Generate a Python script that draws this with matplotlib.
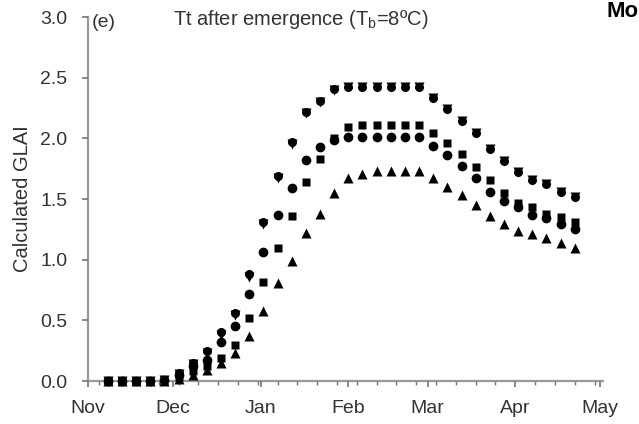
import matplotlib
matplotlib.use("Agg")
import matplotlib.pyplot as plt

plt.rcParams['font.family'] = ['Liberation Sans', 'DejaVu Sans']

# days after 1 November for each simulated point
days = [7, 12, 17, 22, 27, 32, 37, 42, 47, 52, 57, 62, 67, 72, 77, 82, 87,
        92, 97, 102, 107, 112, 117, 122, 127, 132, 137, 142, 147, 152, 157,
        162, 167, 172]

# calculated GLAI for each sowing treatment
glai_dtri = [0.0, 0.0, 0.0, 0.0, 0.01, 0.06, 0.14, 0.23, 0.38, 0.54, 0.86,
             1.29, 1.67, 1.95, 2.21, 2.30, 2.40, 2.42, 2.42, 2.42, 2.42, 2.42,
             2.42, 2.33, 2.24, 2.14, 2.04, 1.91, 1.81, 1.72, 1.66, 1.62, 1.56,
             1.52]
glai_diam = [0.0, 0.0, 0.0, 0.0, 0.01, 0.07, 0.15, 0.25, 0.40, 0.56, 0.88,
             1.31, 1.69, 1.97, 2.22, 2.31, 2.41, 2.42, 2.42, 2.42, 2.42, 2.42,
             2.42, 2.33, 2.24, 2.14, 2.04, 1.91, 1.81, 1.72, 1.66, 1.62, 1.56,
             1.52]
glai_circ = [0.0, 0.0, 0.0, 0.0, 0.01, 0.05, 0.12, 0.17, 0.32, 0.45, 0.72,
             1.06, 1.37, 1.59, 1.82, 1.93, 1.99, 2.01, 2.01, 2.01, 2.01, 2.01,
             2.01, 1.94, 1.86, 1.77, 1.67, 1.56, 1.48, 1.43, 1.37, 1.34, 1.29,
             1.25]
glai_sq = [0.0, 0.0, 0.0, 0.0, 0.0, 0.03, 0.08, 0.12, 0.19, 0.30, 0.52,
           0.82, 1.10, 1.36, 1.64, 1.83, 2.00, 2.09, 2.11, 2.11, 2.11, 2.11,
           2.11, 2.04, 1.96, 1.87, 1.76, 1.66, 1.55, 1.47, 1.43, 1.38, 1.35,
           1.31]
glai_tri = [0.0, 0.0, 0.0, 0.0, 0.0, 0.02, 0.05, 0.09, 0.15, 0.23, 0.37,
            0.58, 0.81, 0.99, 1.22, 1.38, 1.55, 1.67, 1.71, 1.73, 1.73, 1.73,
            1.73, 1.67, 1.60, 1.53, 1.45, 1.36, 1.29, 1.24, 1.21, 1.18, 1.14,
            1.10]

months = ["Nov", "Dec", "Jan", "Feb", "Mar", "Apr", "May"]
month_start = [0, 30, 61, 92, 120, 151, 181]
yticks = [0.0, 0.5, 1.0, 1.5, 2.0, 2.5, 3.0]

fig = plt.figure(figsize=(6.39, 4.24), dpi=100)
ax = fig.add_axes([0.1377, 0.1014, 0.806, 0.8585])

ax.plot(days, glai_tri, '^', color='black', ms=7, mec='none', clip_on=False)
ax.plot(days, glai_sq, 's', color='black', ms=6, mec='none', clip_on=False)
ax.plot(days, glai_dtri, 'v', color='black', ms=7.5, mec='none', clip_on=False)
ax.plot(days, glai_circ, 'o', color='black', ms=7, mec='none', clip_on=False)
ax.plot(days, glai_diam, 'o', color='black', ms=6.5, mec='none', clip_on=False)

ax.set_xlim(0, 182)
ax.set_ylim(0, 3.0)
ax.set_xticks(month_start)
ax.set_xticklabels(months)
ax.set_xticks(range(4, 182, 7), minor=True)
ax.set_yticks(yticks)
ax.set_yticklabels(["%.1f" % v for v in yticks])

for s in ['top', 'right']:
    ax.spines[s].set_visible(False)
for s in ['left', 'bottom']:
    ax.spines[s].set_color('#999999')
    ax.spines[s].set_linewidth(1.6)
    ax.spines[s].set_zorder(1)

ax.tick_params(axis='y', direction='out', length=4, width=1.2, color='#777777',
               labelsize=14, labelcolor='#333333', pad=11)
ax.tick_params(axis='x', which='major', direction='out', length=4, width=1.2,
               color='#777777', labelsize=14, labelcolor='#333333', pad=10)
ax.tick_params(axis='x', which='minor', direction='out', length=3, width=1,
               color='#777777')

ax.set_ylabel("Calculated GLAI", fontsize=14.5, color='#333333', labelpad=6)
ax.text(0.008, 0.985, "(e)", transform=ax.transAxes, fontsize=14,
        color='#333333', va='center', ha='left')
fig.text(0.47, 0.953, "Tt after emergence (T$_\\mathregular{b}$=8\u00baC)",
         fontsize=14.5, color='#333333', ha='center', va='center')
fig.text(0.999, 0.998, "Mo", fontsize=16, fontweight='bold', color='black',
         ha='right', va='top')

fig.savefig("out.png", dpi=100)
